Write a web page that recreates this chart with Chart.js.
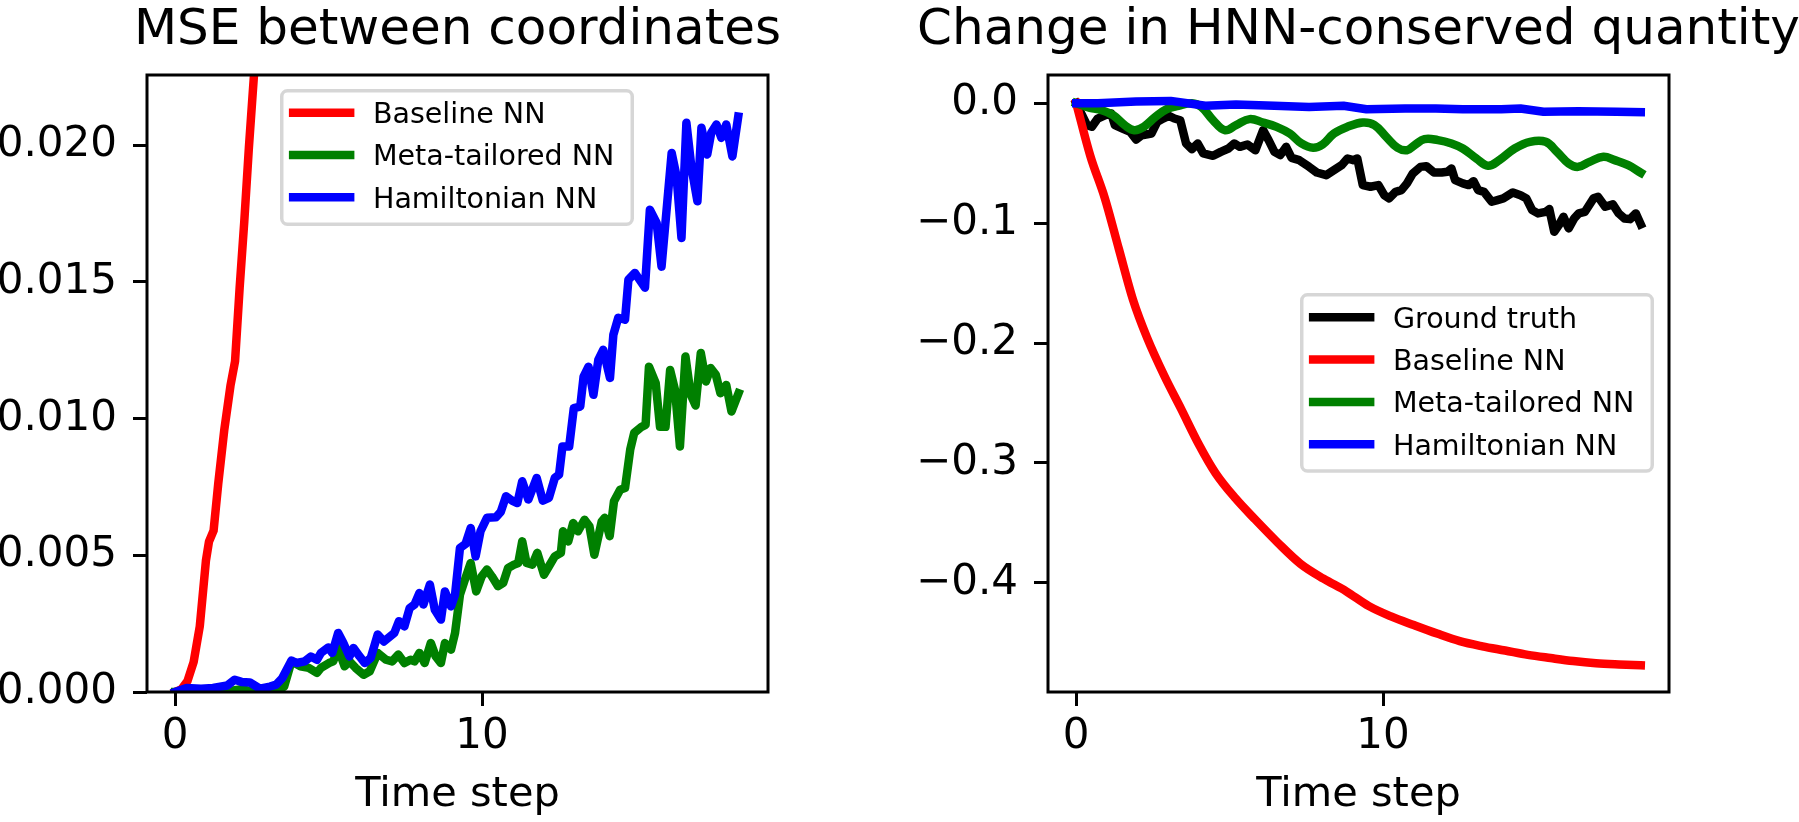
<!DOCTYPE html>
<html>
<head>
<meta charset="utf-8">
<script src="https://cdn.jsdelivr.net/npm/chart.js"></script>
<style>
html, body { margin: 0; padding: 0; background: #fff; overflow: hidden; width: 1799px; height: 822px; }
canvas { position: absolute; top: 0; }
#c1 { left: 0; width: 915px; height: 822px; }
#c2 { left: 868px; width: 981px; height: 822px; }
</style>
</head>
<body>
<canvas id="c1" width="915" height="822"></canvas>
<canvas id="c2" width="981" height="822"></canvas>
<script>
// ---------- tick values / labels ----------
const xTickValues = [0, 10];
const xTickLabels = ['0', '10'];
const mseTickValues = [0, 0.005, 0.010, 0.015, 0.020];
const mseTickLabels = ['0.000', '0.005', '0.010', '0.015', '0.020'];
const hnnTickValues = [0, -0.1, -0.2, -0.3, -0.4];
const hnnTickLabels = ['0.0', '\u22120.1', '\u22120.2', '\u22120.3', '\u22120.4'];

const seriesNamesLeft = ['Baseline NN', 'Meta-tailored NN', 'Hamiltonian NN'];
const seriesNamesRight = ['Ground truth', 'Baseline NN', 'Meta-tailored NN', 'Hamiltonian NN'];

// ---------- left panel: MSE between coordinates ----------
const mseBaselineX = [0,0.2,0.4,0.6,0.8,1.0,1.1,1.25,1.4,1.6,1.8,1.95,2.1,2.25,2.4,2.6,2.8];
const mseBaselineY = [0,0.0001,0.0004,0.0011,0.0024,0.0048,0.0055,0.0059,0.0076,0.0096,0.0112,0.0121,0.0148,0.0172,0.0199,0.0231,0.0265];

const mseMetaX = [0,1.83,2.16,2.5,3.29,3.55,3.79,4.08,4.35,4.62,
  4.75,5.01,5.15,5.31,5.52,5.68,5.88,6.14,6.34,6.6,
  6.87,7.07,7.27,7.47,7.67,7.8,7.96,8.13,8.33,8.49,
  8.66,8.79,8.99,9.12,9.28,9.46,9.63,9.81,9.99,10.16,
  10.32,10.52,10.69,10.85,11.05,11.18,11.31,11.45,11.64,11.8,
  12.02,12.18,12.37,12.57,12.64,12.81,12.97,13.13,13.34,13.5,
  13.66,13.9,14.0,14.16,14.3,14.5,14.66,14.83,14.96,15.2,
  15.33,15.44,15.66,15.8,15.98,16.13,16.29,16.45,16.63,16.8,
  16.96,17.13,17.3,17.45,17.62,17.77,17.96,18.13,18.36];
const mseMetaY = [0,0.00005,0.0001,0.00002,0,0.0002,0.00112,0.00094,0.00088,0.0007,
  0.00088,0.00106,0.00112,0.00161,0.00094,0.00112,0.00088,0.00063,0.00076,0.00143,
  0.00118,0.00112,0.00137,0.00106,0.00118,0.00112,0.00143,0.00106,0.00179,0.0013,
  0.00106,0.00179,0.00155,0.00216,0.00356,0.00417,0.00472,0.00368,0.00423,0.00448,
  0.00423,0.00387,0.00399,0.00454,0.00466,0.00472,0.00551,0.00472,0.00466,0.00509,
  0.00429,0.0046,0.00496,0.00509,0.00588,0.00551,0.00618,0.00588,0.0063,0.00606,
  0.00502,0.00624,0.00637,0.0057,0.00698,0.0074,0.00746,0.00887,0.00948,0.0097,
  0.00977,0.0119,0.0113,0.0097,0.0097,0.01178,0.01105,0.00898,0.01227,0.01088,
  0.01048,0.0124,0.01136,0.01185,0.0116,0.01093,0.01123,0.01026,0.01093];

const mseHnnX = [0,0.37,0.84,1.23,1.70,1.94,2.16,2.43,2.76,3.09,
  3.29,3.49,3.79,3.95,4.22,4.42,4.62,4.75,4.99,5.12,
  5.31,5.48,5.68,5.81,6.01,6.18,6.37,6.6,6.8,7.14,
  7.29,7.47,7.64,7.8,7.96,8.09,8.3,8.46,8.66,8.79,
  8.99,9.12,9.28,9.46,9.63,9.79,9.95,10.16,10.45,10.61,
  10.78,10.98,11.15,11.31,11.51,11.78,11.98,12.18,12.37,12.51,
  12.62,12.84,12.99,13.2,13.31,13.47,13.63,13.79,13.95,14.17,
  14.28,14.44,14.66,14.77,14.98,15.31,15.47,15.69,15.85,16.18,
  16.34,16.5,16.66,16.82,17.02,17.15,17.34,17.47,17.64,17.8,
  17.96,18.16,18.35];
const mseHnnY = [0,0.00015,0.00012,0.00015,0.00024,0.00045,0.00037,0.00035,0.00012,0.0002,
  0.00027,0.00051,0.00115,0.00106,0.00112,0.0013,0.00118,0.00143,0.00163,0.00143,
  0.00216,0.00179,0.0013,0.00161,0.0013,0.00106,0.00124,0.0021,0.00185,0.00216,
  0.00259,0.0024,0.00307,0.0032,0.00362,0.0032,0.00393,0.00301,0.00265,0.00368,
  0.00313,0.00356,0.00527,0.00541,0.006,0.00496,0.00588,0.00637,0.00639,0.00659,
  0.00716,0.007,0.00691,0.00771,0.00704,0.00783,0.007,0.0071,0.00783,0.00795,
  0.00898,0.00898,0.01038,0.01044,0.01154,0.0119,0.01087,0.01215,0.01252,0.01149,
  0.01307,0.01369,0.01362,0.01508,0.01533,0.01479,0.01764,0.01716,0.01556,0.01972,
  0.01886,0.01661,0.02082,0.01922,0.01795,0.02064,0.01966,0.02046,0.02076,0.02027,
  0.02076,0.01959,0.02105];

// ---------- right panel: change in HNN-conserved quantity ----------
const hnnTruthX = [0,0.35,0.51,0.7,0.95,1.14,1.26,1.51,1.76,1.95,
  2.14,2.45,2.64,2.83,3.02,3.2,3.39,3.58,3.77,3.96,
  4.14,4.46,4.71,4.96,5.15,5.33,5.58,5.84,6.09,6.27,
  6.46,6.65,6.84,7.02,7.27,7.59,7.84,8.15,8.4,8.65,
  8.84,9.03,9.16,9.34,9.59,9.85,10.04,10.2,10.41,10.6,
  10.78,10.97,11.22,11.41,11.66,11.91,12.1,12.23,12.35,12.6,
  12.79,12.95,13.1,13.29,13.54,13.73,13.92,14.23,14.48,14.67,
  14.86,15.05,15.3,15.42,15.58,15.73,15.88,16.05,16.23,16.38,
  16.58,16.86,17.01,17.24,17.49,17.68,17.87,18.05,18.24,18.4];
const hnnTruthY = [0,-0.0183,-0.0197,-0.0128,-0.01,-0.0086,-0.0183,-0.0211,-0.0239,-0.0303,
  -0.0267,-0.0253,-0.0156,-0.0128,-0.0106,-0.0128,-0.0142,-0.0336,-0.0383,-0.0336,
  -0.0419,-0.0439,-0.0406,-0.0378,-0.0336,-0.0364,-0.0344,-0.0392,-0.0225,-0.0308,
  -0.0406,-0.0433,-0.0364,-0.0456,-0.0475,-0.0531,-0.0578,-0.06,-0.0558,-0.0517,
  -0.0461,-0.0475,-0.0461,-0.0683,-0.0697,-0.0683,-0.0767,-0.0794,-0.0739,-0.0725,
  -0.0669,-0.0586,-0.0531,-0.0525,-0.0578,-0.0578,-0.0572,-0.0544,-0.0642,-0.0669,
  -0.0683,-0.065,-0.0725,-0.0739,-0.0822,-0.0808,-0.0794,-0.0744,-0.0767,-0.0794,
  -0.0892,-0.0919,-0.0906,-0.0883,-0.1072,-0.1017,-0.0947,-0.1044,-0.0961,-0.0919,
  -0.0906,-0.0794,-0.0781,-0.0864,-0.0844,-0.0919,-0.0961,-0.0967,-0.0919,-0.1011];

const hnnBaselineX = [0,0.46,0.93,1.39,1.85,2.31,2.87,3.43,3.98,4.54,
  5.19,5.83,6.57,7.31,8.06,8.8,9.54,10.28,11.0,11.76,
  12.5,13.24,13.98,14.72,15.46,16.2,16.94,17.69,18.4];
const hnnBaselineY = [0,-0.044,-0.079,-0.1216,-0.1639,-0.1956,-0.2273,-0.2555,-0.2837,-0.3084,
  -0.3295,-0.3471,-0.3665,-0.3841,-0.3965,-0.407,-0.4194,-0.4282,-0.4352,-0.4423,
  -0.4486,-0.4529,-0.4564,-0.46,-0.4627,-0.4652,-0.467,-0.468,-0.4687];

const hnnMetaX = [0,0.45,0.82,1.2,1.58,1.89,2.2,2.58,2.95,3.33,
  3.77,4.08,4.46,4.84,5.21,5.65,6.09,6.53,6.96,7.34,
  7.72,8.03,8.4,8.84,9.34,9.72,10.1,10.47,10.78,11.03,
  11.35,11.79,12.23,12.6,13.04,13.42,13.79,14.29,14.79,15.3,
  15.67,16.05,16.36,16.73,17.18,17.55,17.99,18.4];
const hnnMetaY = [0,-0.0039,-0.0058,-0.01,-0.0183,-0.0225,-0.0197,-0.0114,-0.005,-0.0022,
  0,-0.0031,-0.0142,-0.0225,-0.0183,-0.0133,-0.0161,-0.0197,-0.0253,-0.0336,
  -0.0372,-0.0344,-0.0253,-0.0197,-0.0161,-0.0183,-0.028,-0.0372,-0.0392,-0.035,
  -0.03,-0.0308,-0.0336,-0.0378,-0.0461,-0.0522,-0.0475,-0.0378,-0.0322,-0.0322,
  -0.0406,-0.0503,-0.0531,-0.0489,-0.0447,-0.0475,-0.0517,-0.058];

const hnnHnnX = [0,0.7,1.95,3.08,4.21,5.21,6.46,7.59,8.71,9.46,10.72,11.72,12.6,13.85,14.48,15.23,16.36,17.61,18.4];
const hnnHnnY = [0,0,0.0014,0.0019,-0.0022,-0.0011,-0.0022,-0.0031,-0.0022,-0.005,-0.0044,-0.0044,-0.005,-0.005,-0.0044,-0.0072,-0.0067,-0.0072,-0.0075];

// ---------- helpers ----------
const toXY = (xs, ys) => xs.map((x, i) => ({ x: x, y: ys[i] }));

const FONT = "'DejaVu Sans', 'Liberation Sans', sans-serif";
Chart.defaults.font.family = FONT;
Chart.defaults.color = '#000';

// centre the chart title over the plot area (like matplotlib's axes title)
const titleCenterPlugin = {
  id: 'titleCenter',
  afterLayout(chart) {
    const t = chart.titleBlock, a = chart.chartArea;
    if (!t || !a) return;
    const cx = (a.left + a.right) / 2, half = 600;
    t.left = cx - half;
    t.right = cx + half;
    t.width = 2 * half;
  }
};

const framePlugin = {
  id: 'frame',
  afterDatasetsDraw(chart) {
    const { ctx, chartArea: a } = chart;
    ctx.save();
    ctx.strokeStyle = '#000';
    ctx.lineWidth = 3;
    ctx.strokeRect(a.left, a.top, a.right - a.left, a.bottom - a.top);
    ctx.restore();
  }
};

const boxLegendPlugin = {
  id: 'boxLegend',
  afterDraw(chart, args, o) {
    const ctx = chart.ctx, a = chart.chartArea;
    const fs = o.fontSize;
    const items = chart.data.datasets.map(ds => ({ text: ds.label, color: ds.borderColor }));
    const lw = 3.5;
    const x0 = a.left + o.dx + lw / 2;
    const y0 = a.top + o.dy + lw / 2;
    const pad = 0.4 * fs, handle = 2 * fs, gap = 0.8 * fs;
    const w = o.boxWidth;
    const h = o.firstOff + o.spacing * (items.length - 1) + o.lastOff;
    ctx.save();
    ctx.beginPath();
    if (ctx.roundRect) ctx.roundRect(x0, y0, w, h, 0.2 * fs);
    else ctx.rect(x0, y0, w, h);
    ctx.fillStyle = 'rgba(255,255,255,0.8)';
    ctx.fill();
    ctx.lineWidth = lw;
    ctx.strokeStyle = 'rgba(204,204,204,0.8)';
    ctx.stroke();
    ctx.font = fs + 'px ' + FONT;
    ctx.textBaseline = 'alphabetic';
    ctx.textAlign = 'left';
    items.forEach((it, i) => {
      const cy = y0 + o.firstOff + i * o.spacing;
      ctx.beginPath();
      ctx.moveTo(x0 + pad, cy);
      ctx.lineTo(x0 + pad + handle, cy);
      ctx.lineWidth = 8.5;
      ctx.lineCap = 'square';
      ctx.strokeStyle = it.color;
      ctx.stroke();
      ctx.fillStyle = '#000';
      ctx.fillText(it.text, x0 + pad + handle + gap, cy + 0.729 * fs / 2);
    });
    ctx.restore();
  }
};

function lineDs(label, data, color, order, extra) {
  return Object.assign({
    label: label, data: data, borderColor: color, backgroundColor: color,
    borderWidth: 8.5, pointRadius: 0, pointHoverRadius: 0, fill: false, tension: 0,
    borderCapStyle: 'square', borderJoinStyle: 'round', clip: 0, order: order
  }, extra || {});
}

function makeChart(canvas, cfg) {
  return new Chart(canvas, {
    type: 'line',
    data: { datasets: cfg.datasets },
    options: {
      responsive: false,
      animation: false,
      devicePixelRatio: 1,
      layout: { padding: { left: 0, right: cfg.padRight, top: 0, bottom: 0 } },
      plugins: {
        legend: { display: false },
        tooltip: { enabled: false },
        title: {
          display: true, text: cfg.title, fullSize: true, align: 'center',
          font: { size: 50, weight: 'normal', family: FONT }, color: '#000',
          padding: { top: 1, bottom: 14 }
        },
        boxLegend: cfg.legend
      },
      scales: {
        x: {
          type: 'linear', min: cfg.xMin, max: cfg.xMax,
          afterBuildTicks: s => { s.ticks = xTickValues.map(v => ({ value: v })); },
          afterFit: s => { s.height = 130; },
          ticks: {
            autoSkip: false, maxRotation: 0, minRotation: 0, padding: 6,
            font: { size: 42, family: FONT }, color: '#000',
            callback: v => xTickLabels[xTickValues.indexOf(v)]
          },
          grid: { display: true, drawOnChartArea: false, drawTicks: true, tickLength: 14, tickWidth: 3, tickColor: '#000' },
          border: { display: false },
          title: { display: true, text: 'Time step', font: { size: 41.5, family: FONT }, color: '#000', padding: { top: 0, bottom: 2 } }
        },
        y: {
          type: 'linear', min: cfg.yMin, max: cfg.yMax,
          afterBuildTicks: s => { s.ticks = cfg.yTickValues.map(v => ({ value: v })); },
          afterFit: s => { s.width = cfg.yAxisWidth; },
          ticks: {
            autoSkip: false, padding: 16,
            font: { size: 42, family: FONT }, color: '#000',
            callback: v => cfg.yTickLabels[cfg.yTickValues.indexOf(v)]
          },
          grid: { display: true, drawOnChartArea: false, drawTicks: true, tickLength: 14, tickWidth: 3, tickColor: '#000' },
          border: { display: false }
        }
      }
    },
    plugins: [titleCenterPlugin, framePlugin, boxLegendPlugin]
  });
}

makeChart(document.getElementById('c1'), {
  title: 'MSE between coordinates',
  xMin: -0.92, xMax: 19.32, yMin: 0, yMax: 0.02257,
  yTickValues: mseTickValues, yTickLabels: mseTickLabels,
  yAxisWidth: 147, padRight: 147,
  datasets: [
    lineDs(seriesNamesLeft[0], toXY(mseBaselineX, mseBaselineY), '#ff0000', 2),
    lineDs(seriesNamesLeft[1], toXY(mseMetaX, mseMetaY), '#008000', 1),
    lineDs(seriesNamesLeft[2], toXY(mseHnnX, mseHnnY), '#0000ff', 0)
  ],
  legend: { fontSize: 28.5, dx: 133, dy: 14, boxWidth: 350.5, firstOff: 21.9, spacing: 42.3, lastOff: 27 }
});

makeChart(document.getElementById('c2'), {
  title: 'Change in HNN-conserved quantity',
  xMin: -0.92, xMax: 19.32, yMin: -0.491, yMax: 0.0235,
  yTickValues: hnnTickValues, yTickLabels: hnnTickLabels,
  yAxisWidth: 180, padRight: 180,
  datasets: [
    lineDs(seriesNamesRight[0], toXY(hnnTruthX, hnnTruthY), '#000000', 3),
    lineDs(seriesNamesRight[1], toXY(hnnBaselineX, hnnBaselineY), '#ff0000', 2, { cubicInterpolationMode: 'monotone' }),
    lineDs(seriesNamesRight[2], toXY(hnnMetaX, hnnMetaY), '#008000', 1, { tension: 0.4 }),
    lineDs(seriesNamesRight[3], toXY(hnnHnnX, hnnHnnY), '#0000ff', 0)
  ],
  legend: { fontSize: 28.5, dx: 252, dy: 218, boxWidth: 350.5, firstOff: 22.4, spacing: 42.4, lastOff: 26.6 }
});
</script>
</body>
</html>
